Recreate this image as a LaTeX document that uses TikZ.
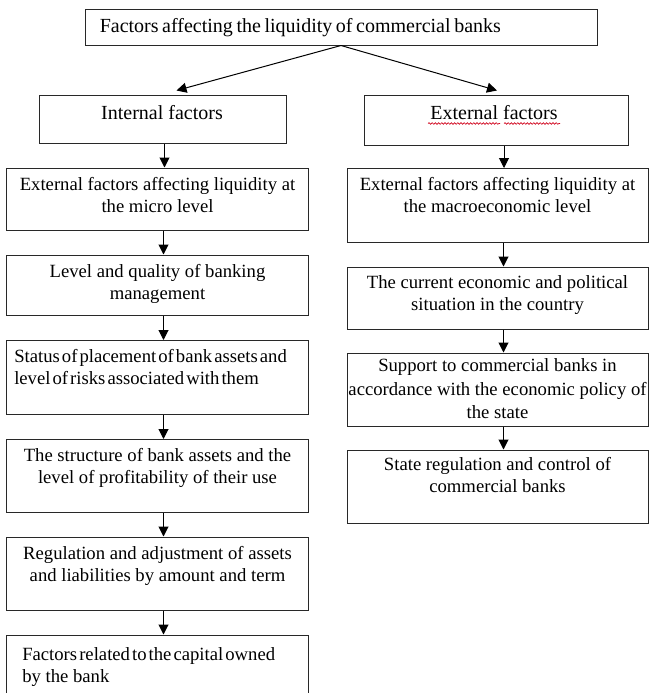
\documentclass[tikz,border=0pt]{standalone}
\usepackage{fontspec}
\setmainfont{Liberation Serif}
\usetikzlibrary{fit,arrows.meta,decorations.pathmorphing}
\newcommand{\tightsp}{\spaceskip=.11em plus .05em\relax}
\newcommand{\titlesp}{\spaceskip=.18em plus .05em\relax}

\begin{document}
\begin{tikzpicture}[x=0.75pt,y=0.75pt,yscale=-1,xscale=1,
  box/.style={draw, color={rgb, 255:red, 40; green, 40; blue, 40 }, line width=0.75pt, inner sep=0pt},
  body/.style={inner sep=0pt, font=\fontsize{14}{16.5}\selectfont, align=center, anchor=base},
  head/.style={inner sep=0pt, font=\fontsize{15}{18}\selectfont, anchor=base},
  arr/.style={line width=0.75pt, -{Triangle[length=7.5pt,width=7.5pt]}},
  squig/.style={color={rgb, 255:red, 208; green, 2; blue, 27 }, line width=0.5pt, decorate, decoration={snake, amplitude=0.6pt, segment length=2.4pt}}]
%uncomment if require: \path (0,693); %set diagram left start at 0, and has height of 693
\path [use as bounding box] (0,0) rectangle (650,693);

%Shape: Rectangle [id:top]
\node [box, fit={(85,9) (597,45)}] (top) {};
%Shape: Rectangle [id:int]
\node [box, fit={(39,95) (286,143)}] (int) {};
%Shape: Rectangle [id:ext]
\node [box, fit={(364,95) (628,145)}] (ext) {};

%Shape: Rectangle [id:l1]
\node [box, fit={(6.5,168) (308.5,230)}] (l1) {};
%Shape: Rectangle [id:l2]
\node [box, fit={(6.5,255) (308.5,315)}] (l2) {};
%Shape: Rectangle [id:l3]
\node [box, fit={(6.5,340.5) (308.5,414)}] (l3) {};
%Shape: Rectangle [id:l4]
\node [box, fit={(6.5,439.5) (308.5,512.5)}] (l4) {};
%Shape: Rectangle [id:l5]
\node [box, fit={(6.5,537) (308.5,610)}] (l5) {};
%Shape: Rectangle [id:l6]
\node [box, fit={(6.5,635) (308.5,702)}] (l6) {};

%Shape: Rectangle [id:r1]
\node [box, fit={(347,168.5) (648,242)}] (r1) {};
%Shape: Rectangle [id:r2]
\node [box, fit={(347,267) (648,329)}] (r2) {};
%Shape: Rectangle [id:r3]
\node [box, fit={(347,353) (648,426)}] (r3) {};
%Shape: Rectangle [id:r4]
\node [box, fit={(347,450) (648,523)}] (r4) {};

%Straight Lines [id:top-int]
\draw [arr] (top.south) -- ([xshift=10.5pt,yshift=-3pt]int.north);
%Straight Lines [id:top-ext]
\draw [arr] (top.south) -- ([xshift=0.75pt,yshift=-3pt]ext.north);

%Straight Lines [id:int-l1]
\draw [arr] ([xshift=1.5pt]int.south) -- ([xshift=1.5pt]int.south |- l1.north);
\draw [arr] ([xshift=4.5pt]l1.south) -- ([xshift=4.5pt]l2.north);
\draw [arr] ([xshift=4.5pt]l2.south) -- ([xshift=4.5pt]l3.north);
\draw [arr] ([xshift=4.5pt]l3.south) -- ([xshift=4.5pt]l4.north);
\draw [arr] ([xshift=4.5pt]l4.south) -- ([xshift=4.5pt]l5.north);
\draw [arr] ([xshift=4.5pt]l5.south) -- ([xshift=4.5pt]l6.north);

%Straight Lines [id:ext-r1]
\draw [arr] ([xshift=6pt]ext.south) -- ([xshift=6pt]ext.south |- r1.north);
\draw [arr] ([xshift=4.5pt]r1.south) -- ([xshift=4.5pt]r2.north);
\draw [arr] ([xshift=4.5pt]r2.south) -- ([xshift=4.5pt]r3.north);
\draw [arr] ([xshift=4.5pt]r3.south) -- ([xshift=4.5pt]r4.north);

% Text Node
\draw (99.5,32) node (topt) [head, anchor=base west] {\titlesp Factors affecting the liquidity of commercial banks};
% Text Node
\draw (162,119) node (intt) [head] {Internal factors};
% Text Node
\draw (494,119) node (extt) [head] {External factors};
%Curve Lines [id:squiggles]
\draw [squig] (428,123.5) -- (500,123.5);
\draw [squig] (504,123.5) -- (560,123.5);

% Text Node
\draw (157.5,212.5) node (l1t) [body] {External factors affecting liquidity at\\the micro level};
% Text Node
\draw (157.5,299) node (l2t) [body] {Level and quality of banking\\management};
% Text Node
\draw (14,384) node (l3t) [body, anchor=base west, align=left] {\tightsp Status of placement of bank assets and\\\tightsp level of risks associated with them};
% Text Node
\draw (157.5,483.5) node (l4t) [body] {The structure of bank assets and the\\level of profitability of their use};
% Text Node
\draw (157.5,581.5) node (l5t) [body] {Regulation and adjustment of assets\\and liabilities by amount and term};
% Text Node
\draw (22,682) node (l6t) [body, anchor=base west, align=left] {\tightsp Factors related to the capital owned\\by the bank};

% Text Node
\draw (497.5,212.5) node (r1t) [body] {External factors affecting liquidity at\\the macroeconomic level};
% Text Node
\draw (497.5,310.5) node (r2t) [body] {The current economic and political\\situation in the country};
% Text Node
\draw (497.5,418.5) node (r3t) [body, font=\fontsize{14}{17.5}\selectfont] {Support to commercial banks in\\accordance with the economic policy of\\the state};
% Text Node
\draw (497.5,492) node (r4t) [body] {State regulation and control of\\commercial banks};

\end{tikzpicture}
\end{document}
